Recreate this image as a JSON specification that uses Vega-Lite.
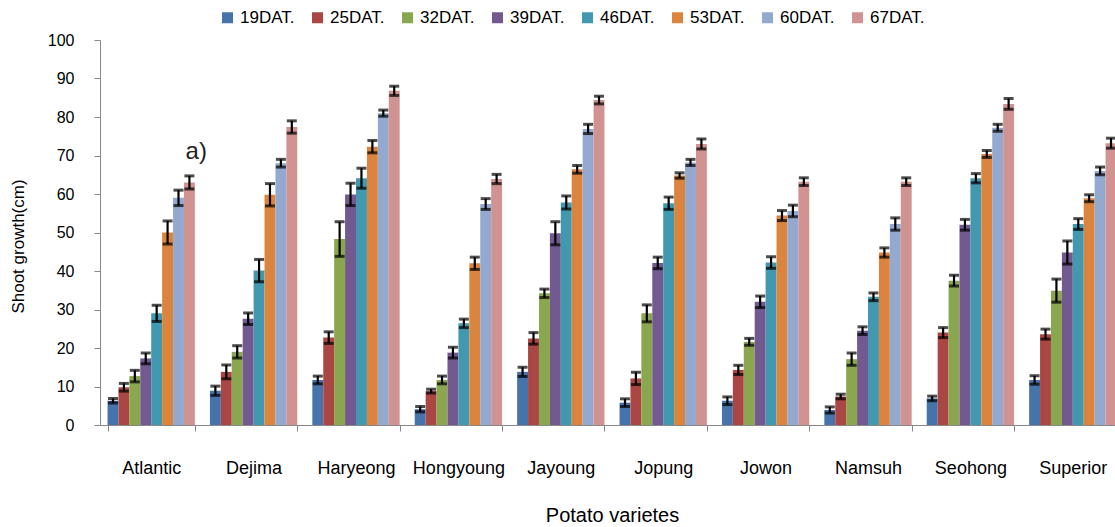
{
  "$schema": "https://vega.github.io/schema/vega-lite/v6.json",
  "autosize": "none",
  "padding": {"left": 100, "top": 40, "right": 0, "bottom": 102},
  "width": 1015,
  "height": 385,
  "background": "white",
  "config": {
    "view": {"stroke": null},
    "font": "Liberation Sans",
    "axis": {"labelFont": "Liberation Sans", "titleFont": "Liberation Sans", "labelColor": "#000", "titleColor": "#000", "domainColor": "#888", "tickColor": "#888", "grid": false, "titleFontWeight": "normal"}
  },
  "datasets": {
    "growth": [
      {"variety": "Atlantic", "dat": "19DAT.", "growth": 6.3, "err": 0.6},
      {"variety": "Atlantic", "dat": "25DAT.", "growth": 9.8, "err": 1.0},
      {"variety": "Atlantic", "dat": "32DAT.", "growth": 12.7, "err": 1.5},
      {"variety": "Atlantic", "dat": "39DAT.", "growth": 17.3, "err": 1.4},
      {"variety": "Atlantic", "dat": "46DAT.", "growth": 29.0, "err": 2.1},
      {"variety": "Atlantic", "dat": "53DAT.", "growth": 50.0, "err": 3.0},
      {"variety": "Atlantic", "dat": "60DAT.", "growth": 59.0, "err": 2.0},
      {"variety": "Atlantic", "dat": "67DAT.", "growth": 63.0, "err": 1.7},
      {"variety": "Dejima", "dat": "19DAT.", "growth": 8.9, "err": 1.2},
      {"variety": "Dejima", "dat": "25DAT.", "growth": 13.8, "err": 1.8},
      {"variety": "Dejima", "dat": "32DAT.", "growth": 19.0, "err": 1.6},
      {"variety": "Dejima", "dat": "39DAT.", "growth": 27.6, "err": 1.5},
      {"variety": "Dejima", "dat": "46DAT.", "growth": 40.1, "err": 2.9},
      {"variety": "Dejima", "dat": "53DAT.", "growth": 59.8, "err": 2.9},
      {"variety": "Dejima", "dat": "60DAT.", "growth": 68.0, "err": 1.0},
      {"variety": "Dejima", "dat": "67DAT.", "growth": 77.4, "err": 1.6},
      {"variety": "Haryeong", "dat": "19DAT.", "growth": 11.7, "err": 1.0},
      {"variety": "Haryeong", "dat": "25DAT.", "growth": 22.7, "err": 1.5},
      {"variety": "Haryeong", "dat": "32DAT.", "growth": 48.3, "err": 4.5},
      {"variety": "Haryeong", "dat": "39DAT.", "growth": 59.9, "err": 2.9},
      {"variety": "Haryeong", "dat": "46DAT.", "growth": 64.1, "err": 2.6},
      {"variety": "Haryeong", "dat": "53DAT.", "growth": 72.3, "err": 1.6},
      {"variety": "Haryeong", "dat": "60DAT.", "growth": 81.0, "err": 0.8},
      {"variety": "Haryeong", "dat": "67DAT.", "growth": 86.8, "err": 1.2},
      {"variety": "Hongyoung", "dat": "19DAT.", "growth": 4.1, "err": 0.7},
      {"variety": "Hongyoung", "dat": "25DAT.", "growth": 8.8, "err": 0.5},
      {"variety": "Hongyoung", "dat": "32DAT.", "growth": 11.7, "err": 1.0},
      {"variety": "Hongyoung", "dat": "39DAT.", "growth": 18.8, "err": 1.4},
      {"variety": "Hongyoung", "dat": "46DAT.", "growth": 26.4, "err": 1.1},
      {"variety": "Hongyoung", "dat": "53DAT.", "growth": 42.0, "err": 1.6},
      {"variety": "Hongyoung", "dat": "60DAT.", "growth": 57.4, "err": 1.4},
      {"variety": "Hongyoung", "dat": "67DAT.", "growth": 63.9, "err": 1.2},
      {"variety": "Jayoung", "dat": "19DAT.", "growth": 13.8, "err": 1.2},
      {"variety": "Jayoung", "dat": "25DAT.", "growth": 22.5, "err": 1.5},
      {"variety": "Jayoung", "dat": "32DAT.", "growth": 34.2, "err": 1.1},
      {"variety": "Jayoung", "dat": "39DAT.", "growth": 49.8, "err": 3.0},
      {"variety": "Jayoung", "dat": "46DAT.", "growth": 57.8, "err": 1.7},
      {"variety": "Jayoung", "dat": "53DAT.", "growth": 66.4, "err": 1.0},
      {"variety": "Jayoung", "dat": "60DAT.", "growth": 76.9, "err": 1.2},
      {"variety": "Jayoung", "dat": "67DAT.", "growth": 84.4, "err": 1.0},
      {"variety": "Jopung", "dat": "19DAT.", "growth": 5.8, "err": 1.0},
      {"variety": "Jopung", "dat": "25DAT.", "growth": 12.1, "err": 1.6},
      {"variety": "Jopung", "dat": "32DAT.", "growth": 29.0, "err": 2.2},
      {"variety": "Jopung", "dat": "39DAT.", "growth": 42.1, "err": 1.5},
      {"variety": "Jopung", "dat": "46DAT.", "growth": 57.6, "err": 1.6},
      {"variety": "Jopung", "dat": "53DAT.", "growth": 64.8, "err": 0.7},
      {"variety": "Jopung", "dat": "60DAT.", "growth": 68.2, "err": 0.8},
      {"variety": "Jopung", "dat": "67DAT.", "growth": 73.0, "err": 1.3},
      {"variety": "Jowon", "dat": "19DAT.", "growth": 6.3, "err": 1.0},
      {"variety": "Jowon", "dat": "25DAT.", "growth": 14.3, "err": 1.2},
      {"variety": "Jowon", "dat": "32DAT.", "growth": 21.6, "err": 0.9},
      {"variety": "Jowon", "dat": "39DAT.", "growth": 32.0, "err": 1.5},
      {"variety": "Jowon", "dat": "46DAT.", "growth": 42.2, "err": 1.5},
      {"variety": "Jowon", "dat": "53DAT.", "growth": 54.4, "err": 1.3},
      {"variety": "Jowon", "dat": "60DAT.", "growth": 55.6, "err": 1.5},
      {"variety": "Jowon", "dat": "67DAT.", "growth": 63.2, "err": 1.0},
      {"variety": "Namsuh", "dat": "19DAT.", "growth": 3.9, "err": 0.8},
      {"variety": "Namsuh", "dat": "25DAT.", "growth": 7.4, "err": 0.6},
      {"variety": "Namsuh", "dat": "32DAT.", "growth": 17.1, "err": 1.6},
      {"variety": "Namsuh", "dat": "39DAT.", "growth": 24.5, "err": 1.0},
      {"variety": "Namsuh", "dat": "46DAT.", "growth": 33.3, "err": 1.0},
      {"variety": "Namsuh", "dat": "53DAT.", "growth": 44.8, "err": 1.2},
      {"variety": "Namsuh", "dat": "60DAT.", "growth": 52.2, "err": 1.6},
      {"variety": "Namsuh", "dat": "67DAT.", "growth": 63.2, "err": 1.0},
      {"variety": "Seohong", "dat": "19DAT.", "growth": 6.9, "err": 0.6},
      {"variety": "Seohong", "dat": "25DAT.", "growth": 24.0, "err": 1.3},
      {"variety": "Seohong", "dat": "32DAT.", "growth": 37.5, "err": 1.4},
      {"variety": "Seohong", "dat": "39DAT.", "growth": 52.0, "err": 1.4},
      {"variety": "Seohong", "dat": "46DAT.", "growth": 64.1, "err": 1.2},
      {"variety": "Seohong", "dat": "53DAT.", "growth": 70.4, "err": 0.9},
      {"variety": "Seohong", "dat": "60DAT.", "growth": 77.2, "err": 0.9},
      {"variety": "Seohong", "dat": "67DAT.", "growth": 83.4, "err": 1.4},
      {"variety": "Superior", "dat": "19DAT.", "growth": 11.7, "err": 1.1},
      {"variety": "Superior", "dat": "25DAT.", "growth": 23.6, "err": 1.3},
      {"variety": "Superior", "dat": "32DAT.", "growth": 34.9, "err": 3.0},
      {"variety": "Superior", "dat": "39DAT.", "growth": 44.8, "err": 3.0},
      {"variety": "Superior", "dat": "46DAT.", "growth": 52.2, "err": 1.4},
      {"variety": "Superior", "dat": "53DAT.", "growth": 58.9, "err": 0.9},
      {"variety": "Superior", "dat": "60DAT.", "growth": 66.0, "err": 1.0},
      {"variety": "Superior", "dat": "67DAT.", "growth": 73.2, "err": 1.3}
    ]
  },
  "encoding": {
    "x": {
      "field": "variety",
      "type": "nominal",
      "sort": ["Atlantic", "Dejima", "Haryeong", "Hongyoung", "Jayoung", "Jopung", "Jowon", "Namsuh", "Seohong", "Superior"],
      "scale": {"type": "band", "range": [0, 1024], "paddingInner": 0.147, "paddingOuter": 0.0735},
      "axis": {"title": "Potato varietes", "labelAngle": 0, "labelFontSize": 18, "labelPadding": 28, "tickSize": 6, "tickBand": "extent", "titleFontSize": 20, "titleBaseline": "alphabetic", "titleY": 96}
    },
    "y": {
      "field": "growth",
      "type": "quantitative",
      "scale": {"domain": [0, 100]},
      "axis": {"title": "Shoot growth(cm)", "values": [0, 10, 20, 30, 40, 50, 60, 70, 80, 90, 100], "labelFontSize": 16, "tickSize": 6, "labelPadding": 20, "titleFontSize": 17, "titleX": -82, "titleY": 206, "titleBaseline": "middle"}
    }
  },
  "layer": [
    {
      "data": {"name": "growth"},
      "mark": {"type": "bar"},
      "encoding": {
        "xOffset": {"field": "dat", "type": "nominal", "scale": {"paddingInner": 0, "paddingOuter": 0}},
        "color": {
          "field": "dat",
          "type": "nominal",
          "scale": {"domain": ["19DAT.", "25DAT.", "32DAT.", "39DAT.", "46DAT.", "53DAT.", "60DAT.", "67DAT."], "range": ["#4674AA", "#AA4744", "#8AA64F", "#72598F", "#4298AF", "#DB843D", "#93A9D0", "#D09392"]},
          "legend": {"title": null, "orient": "none", "direction": "horizontal", "legendX": 119, "legendY": -31, "padding": 0, "symbolType": "square", "symbolSize": 121, "symbolStrokeWidth": 0, "labelFontSize": 17, "labelOffset": 4, "columnPadding": 14, "labelColor": "#000", "labelFont": "Liberation Sans"}
        }
      }
    },
    {
      "data": {"name": "growth"},
      "mark": {"type": "errorbar", "ticks": {"size": 10, "thickness": 3, "color": "black"}, "rule": {"strokeWidth": 2.2, "color": "black"}},
      "encoding": {
        "xOffset": {"field": "dat", "type": "nominal"},
        "yError": {"field": "err"}
      }
    },
    {
      "data": {"values": [{"variety": "Atlantic", "growth": 71, "label": "a)"}]},
      "mark": {"type": "text", "fontSize": 24, "dx": 45, "baseline": "middle", "color": "#222", "font": "Liberation Sans"},
      "encoding": {"text": {"field": "label"}}
    }
  ]
}
